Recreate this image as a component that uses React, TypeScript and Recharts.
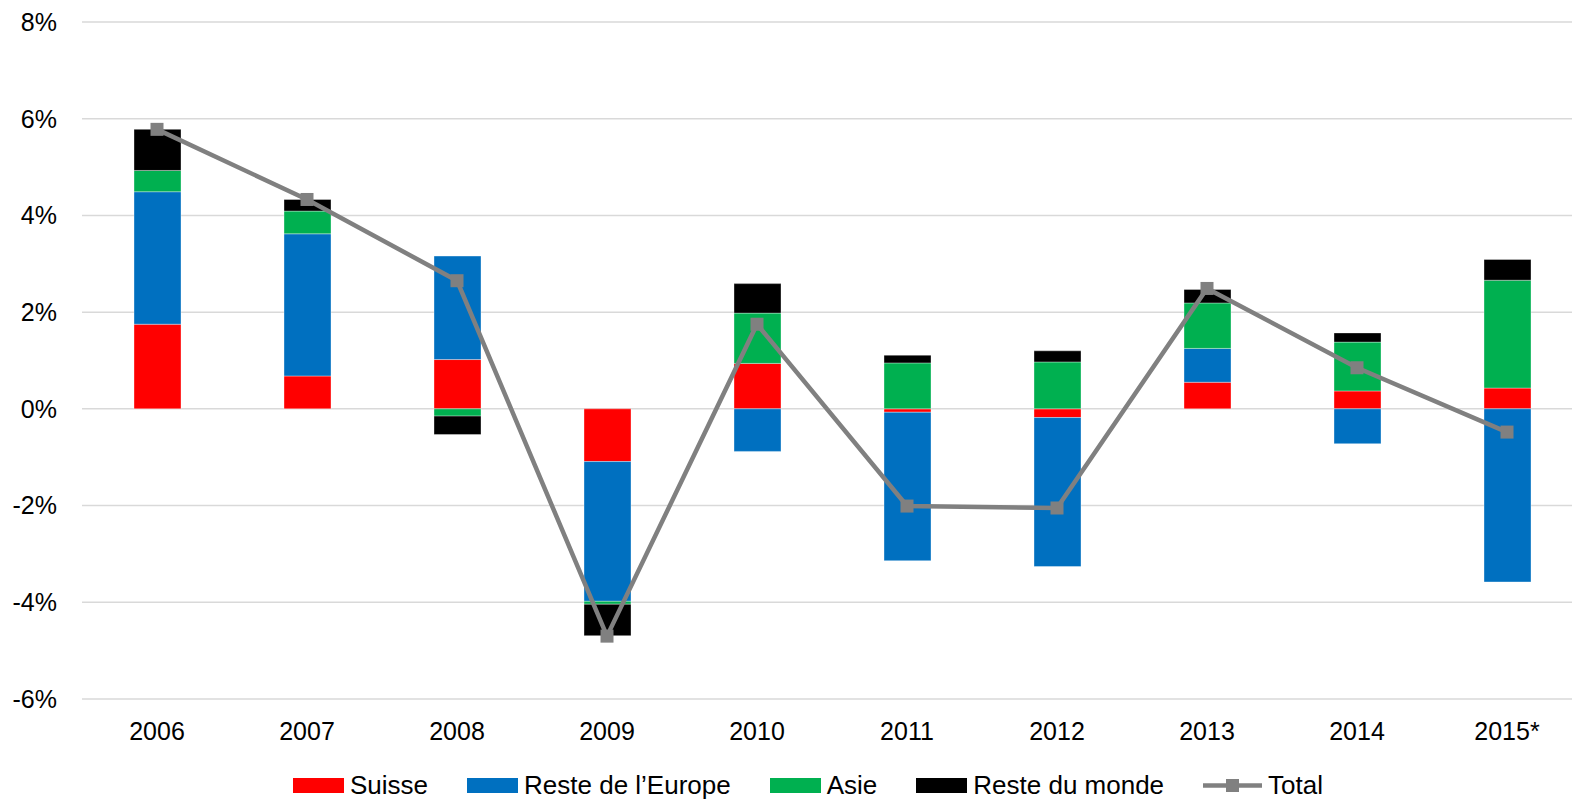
import React from 'react';
import { ComposedChart, Bar, Line, XAxis, YAxis, CartesianGrid, Legend } from 'recharts';

const years = ['2006', '2007', '2008', '2009', '2010', '2011', '2012', '2013', '2014', '2015*'];
const suisse = [1.75, 0.68, 1.02, -1.09, 0.94, -0.07, -0.18, 0.55, 0.37, 0.43];
const europe = [2.74, 2.94, 2.14, -2.89, -0.88, -3.07, -3.08, 0.7, -0.72, -3.58];
const asie = [0.44, 0.47, -0.15, -0.06, 1.04, 0.95, 0.97, 0.94, 1.01, 2.23];
const monde = [0.85, 0.24, -0.38, -0.65, 0.61, 0.16, 0.23, 0.28, 0.19, 0.43];
const total = [5.78, 4.33, 2.65, -4.7, 1.75, -2.01, -2.05, 2.49, 0.85, -0.48];
const yTicks = [-6, -4, -2, 0, 2, 4, 6, 8];

const seriesNames = ['Suisse', 'Reste de l\u2019Europe', 'Asie', 'Reste du monde', 'Total'];
const seriesKeys = ['suisse', 'europe', 'asie', 'monde', 'total'];
const seriesColors = ['#FF0000', '#0070C0', '#00B050', '#000000', '#808080'];

const data = years.map((y, i) => ({
  year: y,
  suisse: suisse[i],
  europe: europe[i],
  asie: asie[i],
  monde: monde[i],
  total: total[i],
}));

const FONT = '"Liberation Sans", Arial, sans-serif';

const SquareDot = (props: any) => {
  const { cx, cy, index } = props;
  if (cx == null || cy == null) return null;
  return <rect key={`dot-${index}`} x={cx - 6.5} y={cy - 6.5} width={13} height={13} fill="#808080" />;
};

const renderLegend = () => (
  <div
    style={{
      display: 'flex',
      justifyContent: 'center',
      alignItems: 'center',
      height: 30,
      paddingLeft: 34,
      boxSizing: 'border-box',
      fontFamily: FONT,
      fontSize: 26,
      color: '#000',
      whiteSpace: 'nowrap',
    }}
  >
    {seriesNames.map((name, i) => (
      <div key={name} style={{ display: 'flex', alignItems: 'center', marginRight: i < seriesNames.length - 1 ? 39 : 0 }}>
        {seriesKeys[i] === 'total' ? (
          <svg width={59} height={15} style={{ display: 'block' }}>
            <line x1={0} y1={7.5} x2={59} y2={7.5} stroke={seriesColors[i]} strokeWidth={4.5} />
            <rect x={23} y={1} width={13} height={13} fill={seriesColors[i]} />
          </svg>
        ) : (
          <div style={{ width: 51, height: 15, background: seriesColors[i] }} />
        )}
        <span style={{ marginLeft: 6, lineHeight: '30px' }}>{name}</span>
      </div>
    ))}
  </div>
);

export default function App() {
  return (
    <div
      style={{
        position: 'absolute',
        left: 0,
        top: 0,
        width: 1572,
        height: 800,
        overflow: 'hidden',
        background: '#fff',
        fontFamily: FONT,
      }}
    >
      <ComposedChart
        width={1582}
        height={800}
        data={data}
        stackOffset="sign"
        margin={{ top: 22, right: 0, bottom: 0, left: 0 }}
      >
        <CartesianGrid vertical={false} stroke="#d9d9d9" strokeWidth={1.5} />
        <XAxis
          dataKey="year"
          axisLine={false}
          tickLine={false}
          tickSize={0}
          tickMargin={23}
          height={71}
          interval={0}
          tick={{ fill: '#000', fontSize: 25, fontFamily: FONT }}
        />
        <YAxis
          domain={[-6, 8]}
          ticks={yTicks}
          axisLine={false}
          tickLine={false}
          tickSize={0}
          tickMargin={25}
          width={82}
          tickFormatter={(v: number) => `${v}%`}
          tick={{ fill: '#000', fontSize: 25, fontFamily: FONT }}
        />
        <Legend verticalAlign="bottom" content={renderLegend} />
        {seriesKeys.slice(0, 4).map((k, i) => (
          <Bar
            key={k}
            dataKey={k}
            name={seriesNames[i]}
            stackId="a"
            fill={seriesColors[i]}
            stroke="rgba(255,255,255,0.35)"
            strokeWidth={1}
            barSize={47}
            isAnimationActive={false}
          />
        ))}
        <Line
          dataKey="total"
          name={seriesNames[4]}
          stroke="#808080"
          strokeWidth={4.5}
          dot={SquareDot}
          activeDot={false}
          isAnimationActive={false}
        />
      </ComposedChart>
    </div>
  );
}
